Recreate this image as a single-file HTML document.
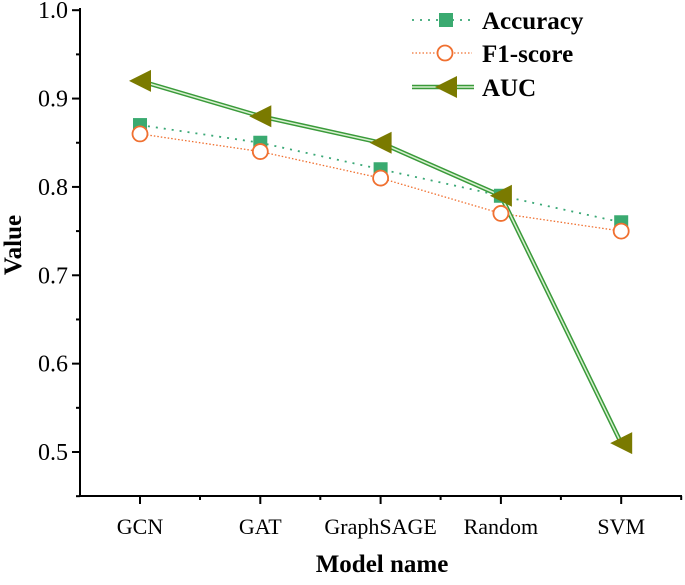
<!DOCTYPE html>
<html><head><meta charset="utf-8"><style>
body{margin:0;background:#fff}
text{font-family:"Liberation Serif",serif;fill:#000}
</style></head><body>
<svg width="685" height="580" xmlns="http://www.w3.org/2000/svg">
<g id="axes"></g><g id="plot"></g><g id="legend"></g>
</svg>
<script>
const categories=["GCN","GAT","GraphSAGE","Random","SVM"];
const accuracy=[0.87,0.85,0.82,0.79,0.76];
const f1score=[0.86,0.84,0.81,0.77,0.75];
const auc=[0.92,0.88,0.85,0.79,0.51];
const yTicks=["0.5","0.6","0.7","0.8","0.9","1.0"];
const NS="http://www.w3.org/2000/svg";
const X0=80,Y0=496;
function xs(i){return 140+i*120.3;}
function ys(v){return 452-(v-0.5)*883.6;}
function mk(p,tag,at,txt){const e=document.createElementNS(NS,tag);for(const k in at)e.setAttribute(k,at[k]);if(txt!==undefined)e.textContent=txt;p.appendChild(e);return e;}
const ax=document.getElementById('axes');
let e=mk(ax,'line',{x1:X0,y1:8,x2:X0,y2:Y0+1,stroke:'#000','stroke-width':2});

e=mk(ax,'line',{x1:X0-1,y1:Y0,x2:682,y2:Y0,stroke:'#000','stroke-width':2});

yTicks.forEach((t,i)=>{const v=parseFloat(t);const y=ys(v);
 mk(ax,'line',{x1:X0-8,y1:y,x2:X0,y2:y,stroke:'#000','stroke-width':2});
 mk(ax,'line',{x1:X0-4,y1:ys(v-0.05),x2:X0,y2:ys(v-0.05),stroke:'#000','stroke-width':2});
 e=mk(ax,'text',{x:X0-12,y:y+8,'text-anchor':'end','font-size':24},t);
 });
categories.forEach((c,i)=>{const x=xs(i);
 mk(ax,'line',{x1:x,y1:Y0,x2:x,y2:Y0+8,stroke:'#000','stroke-width':2});
 mk(ax,'line',{x1:x+60,y1:Y0,x2:x+60,y2:Y0+4,stroke:'#000','stroke-width':2});
 e=mk(ax,'text',{x:x,y:Y0+38,'text-anchor':'middle','font-size':22},c);
 });
e=mk(ax,'text',{x:382,y:572,'text-anchor':'middle','font-size':25,'font-weight':'bold'},'Model name');

e=mk(ax,'text',{x:0,y:0,'text-anchor':'middle','font-size':25,'font-weight':'bold',transform:'translate(21,245) rotate(-90)'},'Value');

const pl=document.getElementById('plot');
function pts(a){return a.map((v,i)=>xs(i)+','+ys(v)).join(' ');}
e=mk(pl,'polyline',{points:pts(accuracy),fill:'none',stroke:'#3aa876','stroke-width':1.8,'stroke-dasharray':'2,6'});

e=mk(pl,'polyline',{points:pts(f1score),fill:'none',stroke:'#f07030','stroke-width':1.3,'stroke-dasharray':'1.5,2'});

e=mk(pl,'polyline',{points:pts(auc),fill:'none',stroke:'#3a9a3a','stroke-width':4.5});

mk(pl,'polyline',{points:pts(auc),fill:'none',stroke:'#d8f0d0','stroke-width':1.5});
function sq(p,x,y){return mk(p,'rect',{x:x-7,y:y-7,width:14,height:14,fill:'#3aaa70'});}
function ci(p,x,y){return mk(p,'circle',{cx:x,cy:y,r:7.5,fill:'#fff',stroke:'#f07030','stroke-width':1.8});}
function tri(p,x,y){return mk(p,'polygon',{points:`${x-11},${y} ${x+11},${y-11} ${x+11},${y+11}`,fill:'#7a7a00'});}
accuracy.forEach((v,i)=>{e=sq(pl,xs(i),ys(v));});
f1score.forEach((v,i)=>{e=ci(pl,xs(i),ys(v));});
auc.forEach((v,i)=>{e=tri(pl,xs(i),ys(v));});
const lg=document.getElementById('legend');
const L=[{n:'Accuracy',y:20},{n:'F1-score',y:53},{n:'AUC',y:87}];
mk(lg,'line',{x1:412,y1:20,x2:472,y2:20,stroke:'#3aa876','stroke-width':1.8,'stroke-dasharray':'2,6'});sq(lg,446,20);
mk(lg,'line',{x1:412,y1:53,x2:472,y2:53,stroke:'#f07030','stroke-width':1.3,'stroke-dasharray':'1.5,2'});ci(lg,445,53);
mk(lg,'line',{x1:412,y1:87,x2:474,y2:87,stroke:'#3a9a3a','stroke-width':4.5});mk(lg,'line',{x1:412,y1:87,x2:474,y2:87,stroke:'#d8f0d0','stroke-width':1.5});tri(lg,446,87);
L.forEach(o=>{e=mk(lg,'text',{x:482,y:o.y+9,'font-size':25,'font-weight':'bold'},o.n);
 });
</script>
</body></html>
